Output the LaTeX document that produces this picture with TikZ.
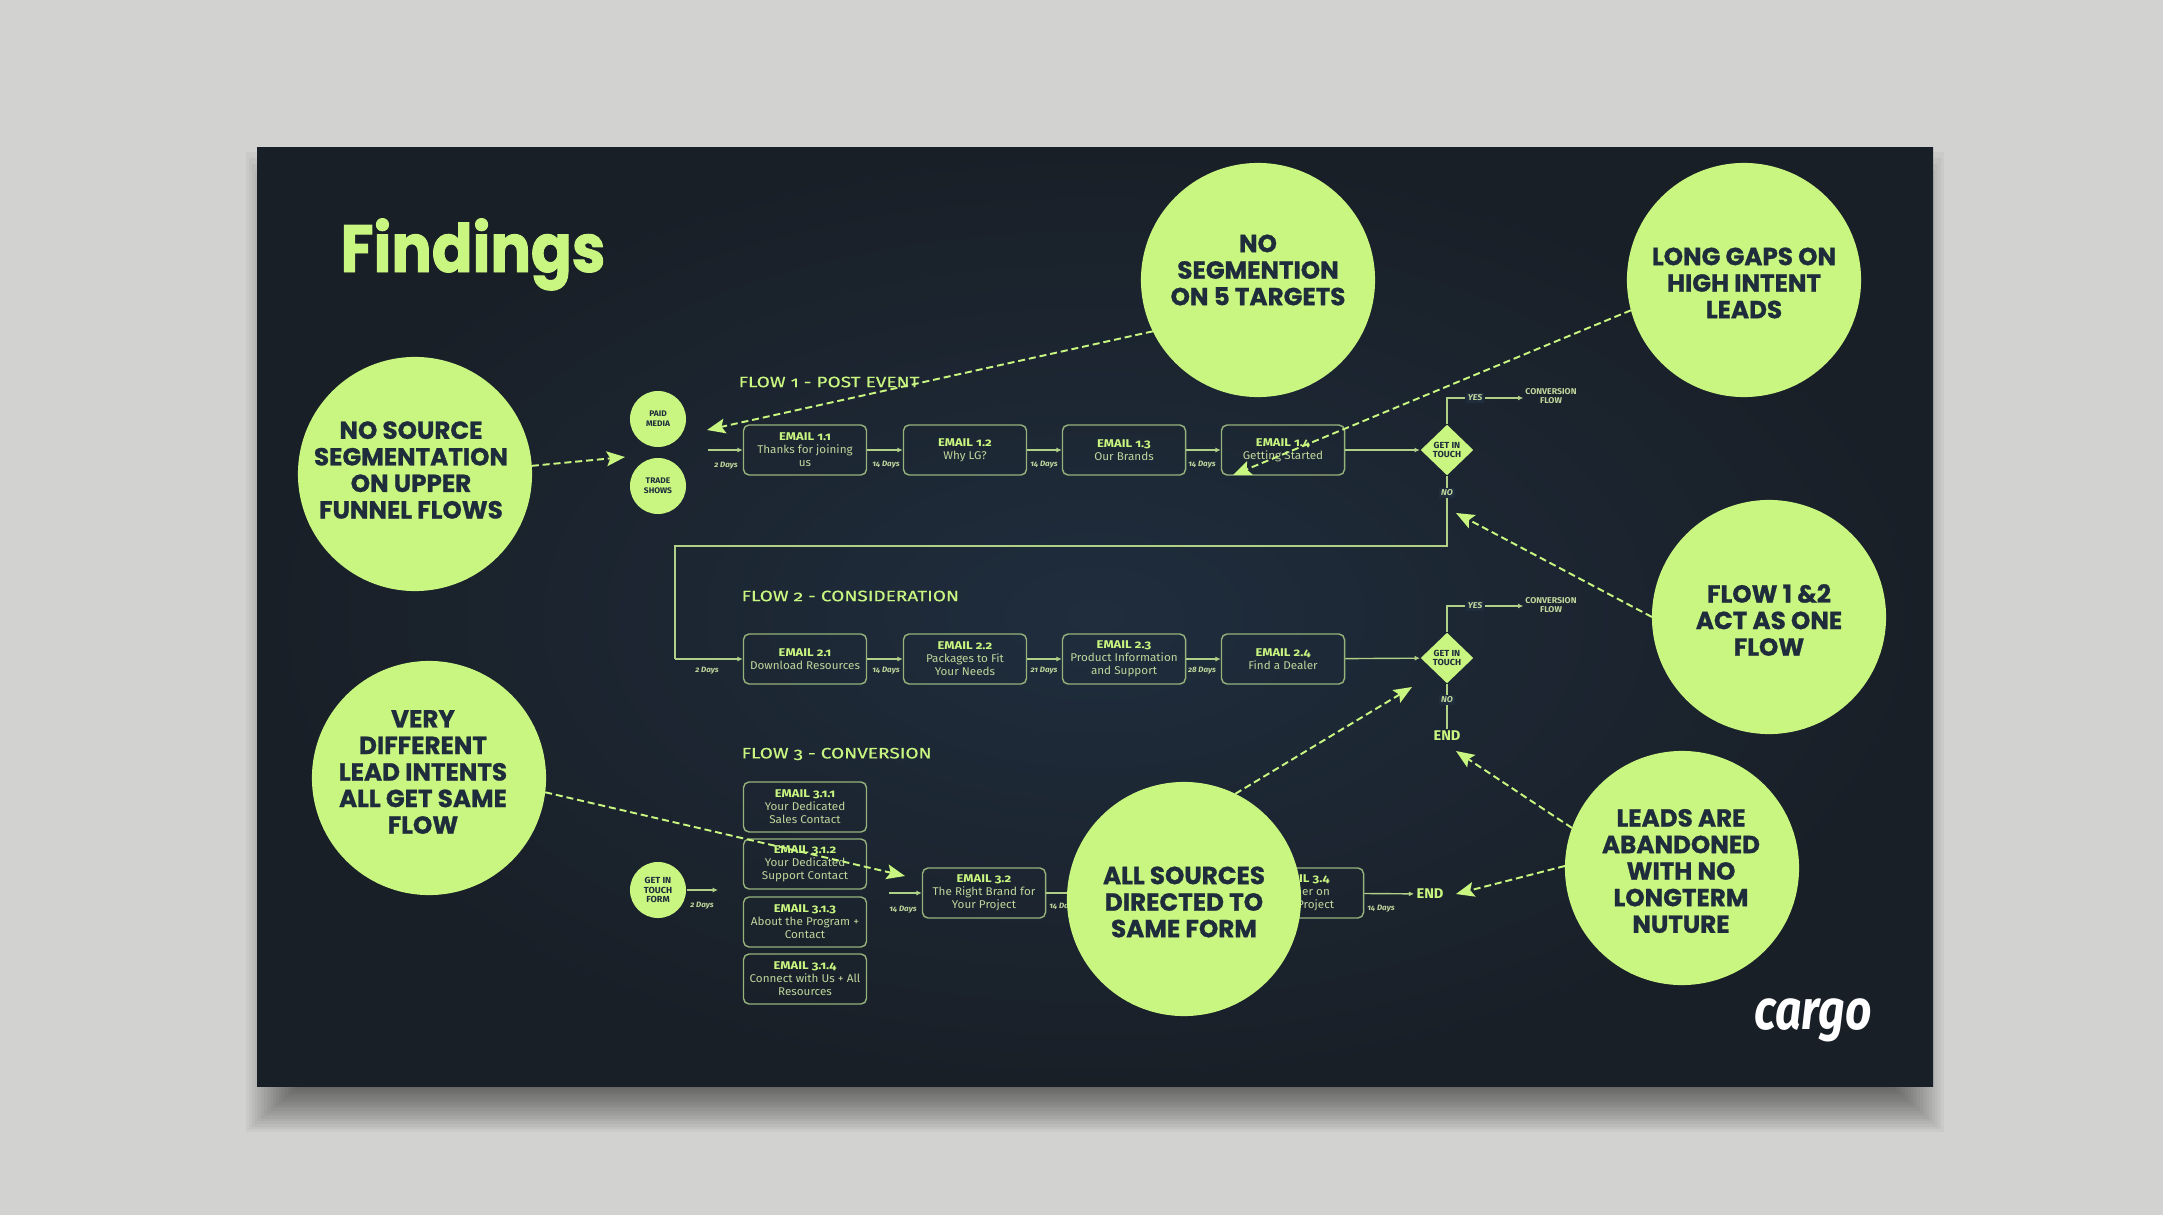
\documentclass[tikz,border=0pt]{standalone}
\usepackage{fontspec}
\setmainfont[Numbers=OldStyle,FakeStretch=1.04]{Fira Sans}
\newfontfamily\heavyfont[FakeBold=1]{Poppins}
\newfontfamily\bannerfont[FakeBold=1.4,FakeStretch=0.9]{Poppins}
\newfontfamily\widefont[Numbers=OldStyle,FakeStretch=1.15]{Fira Sans}
\newfontfamily\titlefont[Numbers=OldStyle,FakeStretch=1.26,FakeBold=0.4]{Fira Sans}
\newfontfamily\logofont[FakeStretch=0.82]{Fira Sans}
\usepackage{tikz}
\usetikzlibrary{arrows.meta,shapes.geometric}
\definecolor{pagegrey}{RGB}{210,210,208}
\definecolor{slidedark}{RGB}{25,31,39}
\definecolor{slidemid}{RGB}{31,45,61}
\definecolor{limebright}{RGB}{201,246,128}
\definecolor{limeline}{RGB}{176,208,136}
\definecolor{boxline}{RGB}{150,178,124}
\definecolor{limedim}{RGB}{190,214,156}
\definecolor{inkdark}{RGB}{30,44,60}
\newcommand{\mailhead}[1]{{\widefont\bfseries\color{limebright}#1}}

\begin{document}
\begin{tikzpicture}[x=0.01cm,y=-0.01cm,
    bigcircle/.style={circle, fill=limebright, minimum size=2.34cm, inner sep=0pt, outer sep=0pt},
    circletext/.style={text=inkdark, inner sep=0pt, align=center, font=\heavyfont\bfseries\fontsize{7}{7.55}\selectfont},
    smallcircle/.style={circle, fill=limebright, text=inkdark, minimum size=0.56cm, inner sep=0pt, align=center, font=\bfseries\fontsize{2.3}{2.75}\selectfont},
    gatebox/.style={diamond, fill=limebright, text=inkdark, minimum width=0.53cm, minimum height=0.51cm, inner sep=0pt, align=center, font=\bfseries\fontsize{2.5}{2.75}\selectfont},
    emailbox/.style={draw=boxline, line width=0.4pt, rounded corners=1.6pt, minimum width=1.23cm, minimum height=0.5cm, inner sep=0pt, align=center, text=limedim, font=\fontsize{3.2}{3.7}\selectfont, execute at begin node={\rule{0pt}{4.3pt}}},
    flowtitle/.style={text=limebright, inner sep=0pt, anchor=west, font=\titlefont\fontsize{4.3}{5}\selectfont},
    daylabel/.style={text=limedim, inner sep=0pt, font=\bfseries\itshape\fontsize{2.2}{2.6}\selectfont},
    answer/.style={text=limedim, fill=slidemid, inner sep=0.6pt, font=\bfseries\itshape\fontsize{2.4}{2.8}\selectfont},
    convlabel/.style={text=limedim, inner sep=0.4pt, align=center, font=\bfseries\fontsize{2.4}{2.75}\selectfont},
    endlabel/.style={text=limebright, inner sep=0.5pt, font=\bfseries\fontsize{4}{5}\selectfont},
    flowline/.style={draw=limeline, line width=0.4pt},
    flowarrow/.style={flowline, -{Latex[length=1.5pt,width=1.4pt]}},
    notearrow/.style={draw=limebright, line width=0.55pt, dash pattern=on 2pt off 1.1pt, -{Stealth[length=5.2pt,width=4.2pt,inset=1pt]}}]

      % Page and slide
      \fill[pagegrey] (0,0) rectangle (2163,1215);
      \foreach \k in {0,...,18} {
        \fill[black, opacity=0.035] ({300-3*\k},{260-6*\k}) rectangle ({1890+3*\k},{1085+2.6*\k});
      }
      \shade[inner color=slidemid, outer color=slidedark] (257,147) rectangle (1933,1086);
      \useasboundingbox (0,0) rectangle (2163,1215);

      % Title
      \node[text=limebright, inner sep=0pt, anchor=base west, font=\bannerfont\bfseries\fontsize{19}{22}\selectfont] (title) at (340,272) {Findings};

      % Flow titles
      \node[flowtitle] (flow1) at (738,382) {FLOW 1 - POST EVENT};
      \node[flowtitle] (flow2) at (741,596) {FLOW 2 - CONSIDERATION};
      \node[flowtitle] (flow3) at (741,754) {FLOW 3 - CONVERSION};

      % Sources
      \node[smallcircle] (paid) at (658,419) {PAID\\MEDIA};
      \node[smallcircle] (trade) at (658,486) {TRADE\\SHOWS};
      \node[smallcircle, font=\bfseries\fontsize{2.5}{2.75}\selectfont] (form) at (658,890) {GET IN\\TOUCH\\FORM};

      % Flow 1
      \coordinate (start1) at (708,450);
      \node[emailbox] (e11) at (805,450) {\mailhead{EMAIL 1.1}\\Thanks for joining\\us};
      \node[emailbox] (e12) at (965,450) {\mailhead{EMAIL 1.2}\\Why LG?};
      \node[emailbox] (e13) at (1124,450) {\mailhead{EMAIL 1.3}\\Our Brands};
      \node[emailbox] (e14) at (1283,450) {\mailhead{EMAIL 1.4}\\Getting Started};
      \node[gatebox] (gate1) at (1447,450) {GET IN\\TOUCH};
      \node[daylabel] (d11) at (726,466) {2 Days};
      \node[daylabel] (d12) at (886,465) {14 Days};
      \node[daylabel] (d13) at (1044,465) {14 Days};
      \node[daylabel] (d14) at (1202,465) {14 Days};
      \draw[flowarrow] (start1) -- (e11);
      \draw[flowarrow] (e11) -- (e12);
      \draw[flowarrow] (e12) -- (e13);
      \draw[flowarrow] (e13) -- (e14);
      \draw[flowarrow] (e14) -- (gate1);

      % Flow 1 answers
      \node[answer] (yes1) at (1475,398) {YES};
      \node[convlabel] (conv1) at (1551,396) {CONVERSION\\FLOW};
      \draw[flowline] (gate1) |- (yes1);
      \draw[flowarrow] (yes1) -- (yes1 -| conv1.west);

      % Flow 2
      \node[emailbox] (e21) at (805,659) {\mailhead{EMAIL 2.1}\\Download Resources};
      \node[emailbox] (e22) at (965,659) {\mailhead{EMAIL 2.2}\\Packages to Fit\\Your Needs};
      \node[emailbox] (e23) at (1124,659) {\mailhead{EMAIL 2.3}\\Product Information\\and Support};
      \node[emailbox] (e24) at (1283,659) {\mailhead{EMAIL 2.4}\\Find a Dealer};
      \node[gatebox] (gate2) at (1447,658) {GET IN\\TOUCH};
      \node[daylabel] (d21) at (707,671) {2 Days};
      \node[daylabel] (d22) at (886,671) {14 Days};
      \node[daylabel] (d23) at (1044,671) {21 Days};
      \node[daylabel] (d24) at (1202,671) {28 Days};
      \draw[flowarrow] (e21) -- (e22);
      \draw[flowarrow] (e22) -- (e23);
      \draw[flowarrow] (e23) -- (e24);
      \draw[flowarrow] (e24) -- (gate2);

      % Link from flow 1 to flow 2
      \coordinate (turnR) at (1447,546);
      \coordinate (turnL) at (675,546);
      \draw[flowline] (gate1) -- (turnR) -- (turnL) -- (turnL |- e21);
      \draw[flowarrow] (turnL |- e21) -- (e21);
      \node[answer] (no1) at (1447,493) {NO};

      % Flow 2 answers
      \node[answer] (yes2) at (1475,606) {YES};
      \node[convlabel] (conv2) at (1551,605) {CONVERSION\\FLOW};
      \draw[flowline] (gate2) |- (yes2);
      \draw[flowarrow] (yes2) -- (yes2 -| conv2.west);
      \node[endlabel] (end1) at (1447,736) {END};
      \draw[flowline] (gate2) -- (end1);
      \node[answer] (no2) at (1447,700) {NO};

      % Flow 3
      \coordinate (stop3) at (718,890);
      \coordinate (start3) at (889,893);
      \node[emailbox] (e311) at (805,807) {\mailhead{EMAIL 3.1.1}\\Your Dedicated\\Sales Contact};
      \node[emailbox] (e312) at (805,864) {\mailhead{EMAIL 3.1.2}\\Your Dedicated\\Support Contact};
      \node[emailbox] (e313) at (805,922) {\mailhead{EMAIL 3.1.3}\\About the Program +\\Contact};
      \node[emailbox] (e314) at (805,979) {\mailhead{EMAIL 3.1.4}\\Connect with Us + All\\Resources};
      \node[emailbox] (e32) at (984,893) {\mailhead{EMAIL 3.2}\\The Right Brand for\\Your Project};
      \node[emailbox] (e34) at (1302,893) {\mailhead{EMAIL 3.4}\\Partner on\\Next Project};
      \node[endlabel] (end2) at (1430,894) {END};
      \node[daylabel] (d31) at (702,906) {2 Days};
      \node[daylabel] (d32) at (903,910) {14 Days};
      \node[daylabel] (d33) at (1063,907) {14 Days};
      \node[daylabel] (d34) at (1381,909) {14 Days};
      \draw[flowarrow] (form) -- (stop3);
      \draw[flowarrow] (start3) -- (e32);
      \draw[flowline] (e32) -- (e34);
      \draw[flowarrow] (e34) -- (end2);

      % Findings
      \node[bigcircle] (nosource) at (415,474) {};
      \node[bigcircle] (nosegment) at (1258,280) {};
      \node[bigcircle] (longgaps) at (1744,280) {};
      \node[bigcircle] (actone) at (1769,617) {};
      \node[bigcircle] (intents) at (429,778) {};
      \node[bigcircle] (allsources) at (1184,899) {};
      \node[bigcircle] (abandoned) at (1682,868) {};

      % Findings text
      \node[circletext] (nosourcetext) at (411,470) {NO SOURCE\\SEGMENTATION\\ON UPPER\\FUNNEL FLOWS};
      \node[circletext] (nosegmenttext) at (1258,270) {NO\\SEGMENTION\\ON 5 TARGETS};
      \node[circletext] (longgapstext) at (1744,283) {LONG GAPS ON\\HIGH INTENT\\LEADS};
      \node[circletext] (actonetext) at (1769,620) {FLOW 1 \&2\\ACT AS ONE\\FLOW};
      \node[circletext] (intentstext) at (423,772) {VERY\\DIFFERENT\\LEAD INTENTS\\ALL GET SAME\\FLOW};
      \node[circletext] (allsourcestext) at (1184,902) {ALL SOURCES\\DIRECTED TO\\SAME FORM};
      \node[circletext] (abandonedtext) at (1681,871) {LEADS ARE\\ABANDONED\\WITH NO\\LONGTERM\\NUTURE};

      % Logo
      \node[text=white, inner sep=0pt, anchor=base, font=\logofont\bfseries\itshape\fontsize{16}{18}\selectfont] (logo) at (1813,1029) {cargo};

      % Arrow targets
      \coordinate (tipsource) at (625,457);
      \coordinate (tipsegment) at (707,430);
      \coordinate (tipgaps) at (1233,475);
      \coordinate (tipone) at (1456,513);
      \coordinate (tipintents) at (905,876);
      \coordinate (tipform) at (1412,687);
      \coordinate (tipend) at (1456,751);
      \coordinate (tipnurture) at (1456,894);

      % Dashed arrows
      \draw[notearrow] (nosource.4) -- (tipsource);
      \draw[notearrow] (nosegment.206) -- (tipsegment);
      \draw[notearrow] (longgaps.195) -- (tipgaps);
      \draw[notearrow] (actone.180) -- (tipone);
      \draw[notearrow] (intents.-7) -- (tipintents);
      \draw[notearrow] (allsources.64) -- (tipform);
      \draw[notearrow] (abandoned.160) -- (tipend);
      \draw[notearrow] (abandoned.179) -- (tipnurture);
    \end{tikzpicture}
\end{document}
